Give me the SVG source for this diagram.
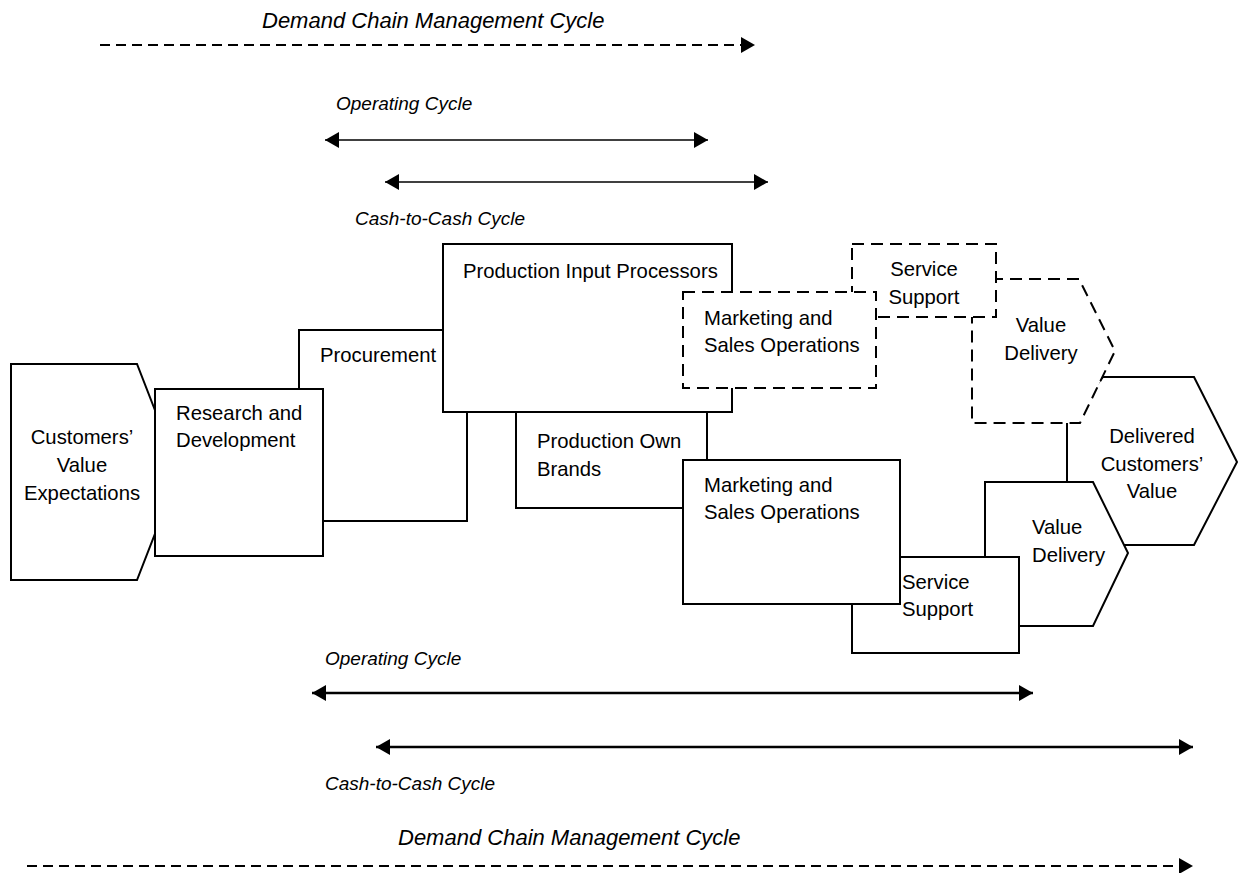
<svg xmlns="http://www.w3.org/2000/svg" width="1243" height="873" viewBox="0 0 1243 873">
  <style>
    .shape { fill: #fff; stroke: #000; stroke-width: 2; }
    .dash { stroke-dasharray: 12 7; }
    .lbl { font-family: "Liberation Sans", Arial, sans-serif; font-size: 20.3px; fill: #000; }
    .mid { text-anchor: middle; }
    .cyc { font-family: "Liberation Sans", Arial, sans-serif; font-style: italic; font-size: 19px; fill: #000; }
    .big { font-size: 22px; }
    .thin { stroke: #000; stroke-width: 1.3; fill: none; }
    .thick { stroke: #000; stroke-width: 2.5; fill: none; }
    .dline { stroke: #000; stroke-width: 2; fill: none; stroke-dasharray: 10 6; }
  </style>
  <defs>
    <marker id="head" markerUnits="userSpaceOnUse" markerWidth="16" markerHeight="18" refX="14" refY="8" orient="auto-start-reverse">
      <path d="M0,0 L14,8 L0,16 z" fill="#000"/>
    </marker>
  </defs>

  <!-- cycle spans above the chain -->
  <g id="top-cycles">
    <text class="cyc big" x="262" y="28">Demand Chain Management Cycle</text>
    <text class="cyc" x="336" y="110">Operating Cycle</text>
    <text class="cyc" x="355" y="225">Cash-to-Cash Cycle</text>
  </g>

  <!-- stages, back to front -->
  <g id="customers-value-expectations">
    <polygon class="shape" points="11,364 137,364 179,472 137,580 11,580"/>
    <text class="lbl mid" x="82" y="444">Customers’</text>
    <text class="lbl mid" x="82" y="472">Value</text>
    <text class="lbl mid" x="82" y="500">Expectations</text>
  </g>
  <g id="procurement">
    <rect class="shape" x="299" y="330" width="168" height="191"/>
    <text class="lbl" x="320" y="362">Procurement</text>
  </g>
  <g id="research-development">
    <rect class="shape" x="155" y="389" width="168" height="167"/>
    <text class="lbl" x="176" y="420">Research and</text>
    <text class="lbl" x="176" y="447">Development</text>
  </g>
  <g id="production-own-brands">
    <rect class="shape" x="516" y="380" width="191" height="128"/>
    <text class="lbl" x="537" y="448">Production Own</text>
    <text class="lbl" x="537" y="476">Brands</text>
  </g>
  <g id="production-input-processors">
    <rect class="shape" x="443" y="244" width="289" height="168"/>
    <text class="lbl" x="463" y="278">Production Input Processors</text>
  </g>
  <g id="delivered-customers-value">
    <polygon class="shape" points="1103,377 1194,377 1237,462 1194,545 1103,545 1067,482 1067,423"/>
    <text class="lbl mid" x="1152" y="443">Delivered</text>
    <text class="lbl mid" x="1152" y="471">Customers’</text>
    <text class="lbl mid" x="1152" y="498">Value</text>
  </g>
  <g id="value-delivery-planned">
    <polygon class="shape dash" points="972,279 1079,279 1115,351 1080,423 972,423"/>
    <text class="lbl mid" x="1041" y="332">Value</text>
    <text class="lbl mid" x="1041" y="360">Delivery</text>
  </g>
  <g id="service-support-planned">
    <rect class="shape dash" x="852" y="244" width="144" height="73"/>
    <text class="lbl mid" x="924" y="276">Service</text>
    <text class="lbl mid" x="924" y="304">Support</text>
  </g>
  <g id="marketing-sales-planned">
    <rect class="shape dash" x="683" y="292" width="193" height="96"/>
    <text class="lbl" x="704" y="325">Marketing and</text>
    <text class="lbl" x="704" y="352">Sales Operations</text>
  </g>
  <g id="value-delivery">
    <polygon class="shape" points="985,482 1093,482 1128,553 1093,626 985,626"/>
    <text class="lbl" x="1032" y="534">Value</text>
    <text class="lbl" x="1032" y="562">Delivery</text>
  </g>
  <g id="service-support">
    <rect class="shape" x="852" y="557" width="167" height="96"/>
    <text class="lbl" x="902" y="589">Service</text>
    <text class="lbl" x="902" y="616">Support</text>
  </g>
  <g id="marketing-sales">
    <rect class="shape" x="683" y="460" width="217" height="144"/>
    <text class="lbl" x="704" y="492">Marketing and</text>
    <text class="lbl" x="704" y="519">Sales Operations</text>
  </g>

  <!-- cycle spans below the chain -->
  <g id="bottom-cycles">
    <text class="cyc" x="325" y="665">Operating Cycle</text>
    <text class="cyc" x="325" y="790">Cash-to-Cash Cycle</text>
    <text class="cyc big" x="398" y="845">Demand Chain Management Cycle</text>
  </g>

  <!-- connectors -->
  <g id="connectors">
    <line class="dline" x1="100" y1="45" x2="755" y2="45" marker-end="url(#head)"/>
    <line class="thin" x1="325" y1="140" x2="708" y2="140" marker-start="url(#head)" marker-end="url(#head)"/>
    <line class="thin" x1="385" y1="182" x2="768" y2="182" marker-start="url(#head)" marker-end="url(#head)"/>
    <line class="thick" x1="312" y1="693" x2="1033" y2="693" marker-start="url(#head)" marker-end="url(#head)"/>
    <line class="thick" x1="376" y1="747" x2="1193" y2="747" marker-start="url(#head)" marker-end="url(#head)"/>
    <line class="dline" x1="27" y1="866" x2="1193" y2="866" marker-end="url(#head)"/>
  </g>
</svg>
